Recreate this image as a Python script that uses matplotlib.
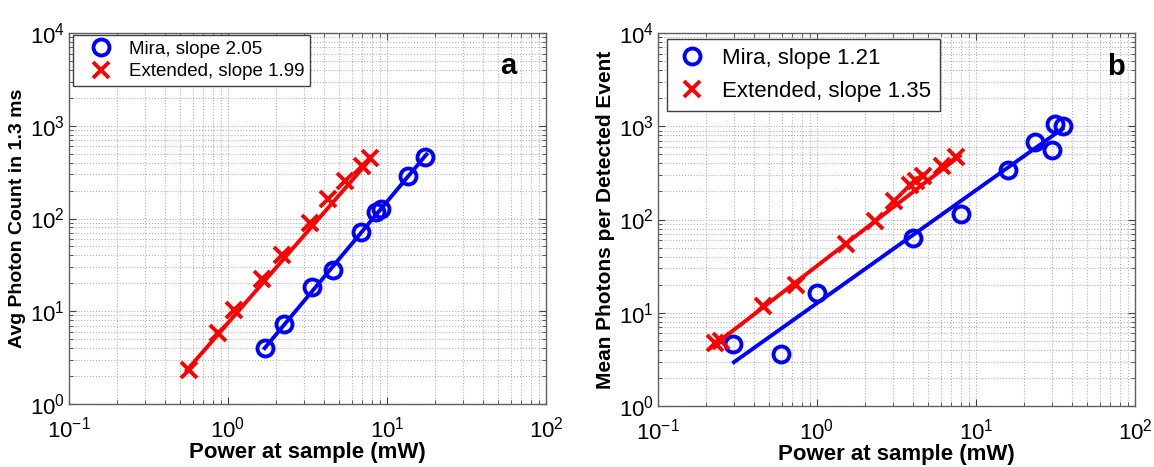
import matplotlib
matplotlib.use("Agg")
import matplotlib.pyplot as plt
from matplotlib.ticker import LogLocator, NullFormatter

plt.rcParams["font.family"] = ["Liberation Sans", "DejaVu Sans"]

# panel a: avg photon count in 1.3 ms
a_ext_power = [0.567, 0.87, 1.09, 1.64, 2.2, 3.29, 4.25, 5.47, 7.0, 7.78]
a_ext_count = [2.35, 5.77, 10.4, 22.1, 40.8, 88.5, 163, 255, 368, 452]
a_mira_power = [1.71, 2.24, 3.4, 4.56, 6.89, 8.57, 9.12, 13.6, 17.3]
a_mira_count = [4.06, 7.37, 18.1, 27.6, 72.2, 118, 126, 284, 463]
a_ext_fit_x = [0.55, 7.9]
a_ext_fit_y = [2.3, 440]
a_mira_fit_x = [1.7, 17.7]
a_mira_fit_y = [4.0, 490]

# panel b: mean photons per detected event
b_ext_power = [0.229, 0.25, 0.457, 0.74, 1.52, 2.3, 3.07, 3.86, 4.17, 4.64, 6.07, 7.5]
b_ext_photons = [4.77, 4.97, 11.7, 19.8, 54.8, 96.8, 158, 237, 257, 290, 371, 473]
b_mira_power = [0.298, 0.597, 1.0, 4.0, 8.05, 15.9, 23.6, 30.0, 31.3, 35.2]
b_mira_photons = [4.58, 3.59, 16.2, 63.4, 114, 342, 682, 557, 1067, 1009]
b_ext_fit_x = [0.21, 7.9]
b_ext_fit_y = [4.1, 480]
b_mira_fit_x = [0.3, 35]
b_mira_fit_y = [2.95, 940]

a_labels = ["Mira, slope 2.05", "Extended, slope 1.99"]
b_labels = ["Mira, slope 1.21", "Extended, slope 1.35"]

BLUE = "#0000ff"
RED = "#ff0000"


def style_axes(ax, ylabel, ylabel_size, tag, tag_x):
    ax.set_xscale("log")
    ax.set_yscale("log")
    ax.set_xlim(0.1, 100)
    ax.set_ylim(1, 1e4)
    ax.xaxis.set_major_locator(LogLocator(base=10, numticks=10))
    ax.yaxis.set_major_locator(LogLocator(base=10, numticks=10))
    ax.xaxis.set_minor_locator(LogLocator(base=10, subs=range(2, 10), numticks=20))
    ax.yaxis.set_minor_locator(LogLocator(base=10, subs=range(2, 10), numticks=20))
    ax.xaxis.set_minor_formatter(NullFormatter())
    ax.yaxis.set_minor_formatter(NullFormatter())
    ax.grid(True, which="both", linestyle=":", color="#b0b0b0", linewidth=0.8)
    ax.tick_params(which="both", direction="in", top=True, right=True,
                   colors="#404040", labelcolor="black")
    ax.tick_params(which="major", length=5, labelsize=16)
    ax.tick_params(which="minor", length=3)
    ax.tick_params(axis="x", which="major", pad=9)
    ax.tick_params(axis="y", which="major", pad=3)
    for s in ax.spines.values():
        s.set_color("#606060")
        s.set_linewidth(1.0)
    ax.set_xlabel("Power at sample (mW)", fontsize=16, fontweight="bold", labelpad=0)
    ax.set_ylabel(ylabel, fontsize=ylabel_size, fontweight="bold", labelpad=3)
    ax.text(tag_x, 0.91, tag, transform=ax.transAxes, fontsize=21,
            fontweight="bold", ha="center", va="center")


fig = plt.figure(figsize=(11.54, 4.67), dpi=100)
ax1 = fig.add_axes([0.0598, 0.1349, 0.4133, 0.7944])
ax2 = fig.add_axes([0.5702, 0.1306, 0.4133, 0.7987])

mk = dict(markersize=11.5, markeredgewidth=2.8, linestyle="none")

# panel a
h1, = ax1.plot(a_mira_power, a_mira_count, marker="o", markerfacecolor="none",
               markeredgecolor=BLUE, **mk)
h2, = ax1.plot(a_ext_power, a_ext_count, marker="x", color=RED, **mk)
ax1.plot(a_ext_fit_x, a_ext_fit_y, color=RED, linewidth=2.8)
ax1.plot(a_mira_fit_x, a_mira_fit_y, color=BLUE, linewidth=2.8)
style_axes(ax1, "Avg Photon Count in 1.3 ms", 14, "a", 0.92)
leg1 = ax1.legend([h1, h2], a_labels, loc="upper left", fontsize=13.5,
                  bbox_to_anchor=(0.008, 0.995), borderaxespad=0.0,
                  fancybox=False, framealpha=1, edgecolor="#404040",
                  handletextpad=0.3, borderpad=0.3, labelspacing=0.3,
                  handlelength=2.4)
leg1.get_frame().set_linewidth(1.0)

# panel b
h3, = ax2.plot(b_mira_power, b_mira_photons, marker="o", markerfacecolor="none",
               markeredgecolor=BLUE, **mk)
h4, = ax2.plot(b_ext_power, b_ext_photons, marker="x", color=RED, **mk)
ax2.plot(b_ext_fit_x, b_ext_fit_y, color=RED, linewidth=2.8)
ax2.plot(b_mira_fit_x, b_mira_fit_y, color=BLUE, linewidth=2.8)
style_axes(ax2, "Mean Photons per Detected Event", 15, "b", 0.96)
leg2 = ax2.legend([h3, h4], b_labels, loc="upper left", fontsize=16,
                  bbox_to_anchor=(0.018, 0.985), borderaxespad=0.0,
                  fancybox=False, framealpha=1, edgecolor="#404040",
                  handletextpad=0.6, borderpad=0.4, labelspacing=0.55,
                  handlelength=1.5)
leg2.get_frame().set_linewidth(1.0)

fig.savefig("out.png", dpi=100)
